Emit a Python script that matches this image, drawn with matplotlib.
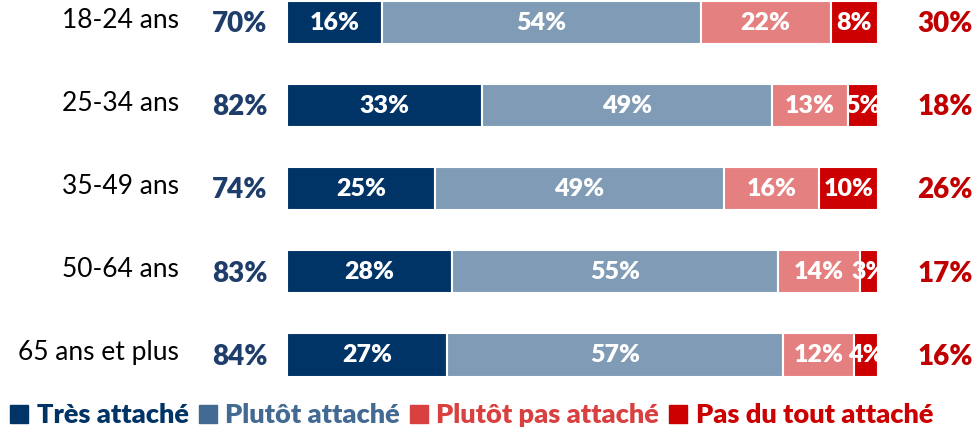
import matplotlib.pyplot as plt

groups = ['18-24 ans', '25-34 ans', '35-49 ans', '50-64 ans', '65 ans et plus']
tres = [16, 33, 25, 28, 27]
plutot = [54, 49, 49, 55, 57]
plutot_pas = [22, 13, 16, 14, 12]
pas_du_tout = [8, 5, 10, 3, 4]
total_attache = [70, 82, 74, 83, 84]
total_pas = [30, 18, 26, 17, 16]

series = ['Très attaché', 'Plutôt attaché', 'Plutôt pas attaché', 'Pas du tout attaché']
bar_colors = ['#003366', '#7f9bb5', '#e48080', '#cc0000']
legend_colors = ['#003366', '#426a92', '#d94040', '#cc0000']

plt.rcParams['font.family'] = ['Lato', 'DejaVu Sans']

fig = plt.figure(figsize=(9.74, 4.3), dpi=100)
ax = fig.add_axes([287 / 974, 1 - 396.5 / 430, 591 / 974, 415.5 / 430])
ax.set_xlim(0, 100)
ax.set_ylim(4.5, -0.5)
ax.axis('off')

values = [tres, plutot, plutot_pas, pas_du_tout]
left = [0] * len(groups)
for vals, col, name in zip(values, bar_colors, series):
    bars = ax.barh(range(len(groups)), vals, left=left, height=0.52,
                   color=col, edgecolor='white', linewidth=1.5, label=name)
    for i, (b, v) in enumerate(zip(bars, vals)):
        t = ax.text(left[i] + v / 2, i, f'{v}%', ha='center', va='center',
                    color='white', fontsize=18, fontweight='heavy')
        t.set_clip_path(b)
    left = [l + v for l, v in zip(left, vals)]

for i, g in enumerate(groups):
    ax.text(-18.3, i - 0.03, g, ha='right', va='center', fontsize=19, color='black')
    ax.text(-8, i + 0.02, f'{total_attache[i]}%', ha='center', va='center',
            fontsize=20, fontweight='heavy', color='#1f3d6b')
    ax.text(111.3, i + 0.02, f'{total_pas[i]}%', ha='center', va='center',
            fontsize=20, fontweight='heavy', color='#c00000')

handles = [plt.Line2D([], [], marker='s', linestyle='', color=c, markersize=13)
           for c in legend_colors]
leg = fig.legend(handles, series, loc='center', bbox_to_anchor=(0.484, 1 - 415 / 430),
                 ncol=4, frameon=False, handletextpad=0.3, columnspacing=0.35,
                 handlelength=0.7, prop={'size': 19.5, 'weight': 'heavy'})
for txt, c in zip(leg.get_texts(), legend_colors):
    txt.set_color(c)

fig.savefig('out.png', dpi=100)
